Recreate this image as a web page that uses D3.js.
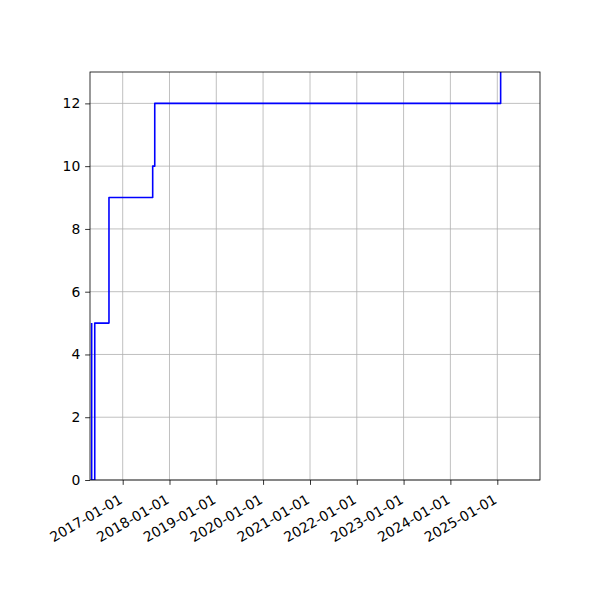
<!DOCTYPE html>
<html>
<head>
<meta charset="utf-8">
<script src="https://cdn.jsdelivr.net/npm/d3@7"></script>
<style>
  body { margin: 0; background: #fff; }
  svg { font-family: "DejaVu Sans", sans-serif; }
</style>
</head>
<body>
<div id="chart"></div>
<script>
// step dates and the count that holds from each date on
var stepDates = ["2016-05-04", "2016-05-04", "2016-05-28", "2016-09-16", "2017-08-23", "2017-09-08", "2025-01-27"];
var stepValues = [5, 0, 5, 9, 10, 12, 13];
var xTickLabels = ["2017-01-01", "2018-01-01", "2019-01-01", "2020-01-01", "2021-01-01",
                   "2022-01-01", "2023-01-01", "2024-01-01", "2025-01-01"];
var yTicks = [0, 2, 4, 6, 8, 10, 12];
var xLimits = ["2016-04-21", "2025-11-30"];
var yLimits = [0, 13];

var parse = d3.utcParse("%Y-%m-%d");

var width = 600, height = 600;
var margin = {top: 72, right: 60, bottom: 120, left: 90};
var innerW = width - margin.left - margin.right;
var innerH = height - margin.top - margin.bottom;
var fontSize = 13.9;
var tickLen = 4.86;

var svg = d3.select("#chart").append("svg")
    .attr("width", width)
    .attr("height", height);

var g = svg.append("g")
    .attr("transform", "translate(" + margin.left + "," + margin.top + ")");

var x = d3.scaleUtc()
    .domain(xLimits.map(parse))
    .range([0, innerW]);

var y = d3.scaleLinear()
    .domain(yLimits)
    .range([innerH, 0]);

var xTicks = xTickLabels.map(parse);

// grid
g.append("g").selectAll("line")
    .data(xTicks)
  .enter().append("line")
    .attr("x1", function(d) { return x(d); })
    .attr("x2", function(d) { return x(d); })
    .attr("y1", 0)
    .attr("y2", innerH)
    .style("stroke", "#b0b0b0")
    .style("stroke-width", 0.8);

g.append("g").selectAll("line")
    .data(yTicks)
  .enter().append("line")
    .attr("x1", 0)
    .attr("x2", innerW)
    .attr("y1", function(d) { return y(d); })
    .attr("y2", function(d) { return y(d); })
    .style("stroke", "#b0b0b0")
    .style("stroke-width", 0.8);

// step line
svg.append("clipPath")
    .attr("id", "plot-clip")
  .append("rect")
    .attr("width", innerW)
    .attr("height", innerH);

var points = stepDates.map(function(d, i) { return [parse(d), stepValues[i]]; });

var line = d3.line()
    .x(function(d) { return x(d[0]); })
    .y(function(d) { return y(d[1]); })
    .curve(d3.curveStepAfter);

g.append("path")
    .datum(points)
    .attr("clip-path", "url(#plot-clip)")
    .attr("d", line)
    .style("fill", "none")
    .style("stroke", "blue")
    .style("stroke-width", 1.6)
    .style("stroke-linejoin", "round");

// axes
var xAxis = g.append("g")
    .attr("transform", "translate(0," + innerH + ")")
    .call(d3.axisBottom(x)
      .tickValues(xTicks)
      .tickSize(tickLen)
      .tickPadding(4.86)
      .tickFormat(d3.utcFormat("%Y-%m-%d")));

xAxis.select(".domain").remove();
xAxis.selectAll(".tick line").style("stroke", "#000").style("stroke-width", 0.8);
xAxis.selectAll(".tick text")
    .style("font-size", fontSize + "px")
    .style("font-family", "DejaVu Sans")
    .style("fill", "#000")
    .attr("text-anchor", "end")
    .attr("y", 0)
    .attr("dy", 0)
    .attr("dominant-baseline", "hanging")
    .attr("transform", "translate(-5," + (tickLen + 4.86 + 3.5) + ") rotate(-30)");

var yAxis = g.append("g")
    .call(d3.axisLeft(y)
      .tickValues(yTicks)
      .tickSize(tickLen)
      .tickPadding(4.86)
      .tickFormat(d3.format("d")));

yAxis.select(".domain").remove();
yAxis.selectAll(".tick line").style("stroke", "#000").style("stroke-width", 0.8);
yAxis.selectAll(".tick text")
    .style("font-size", fontSize + "px")
    .style("font-family", "DejaVu Sans")
    .style("fill", "#000");

// frame
g.append("rect")
    .attr("width", innerW)
    .attr("height", innerH)
    .style("fill", "none")
    .style("stroke", "#000")
    .style("stroke-width", 0.8);
</script>
</body>
</html>
